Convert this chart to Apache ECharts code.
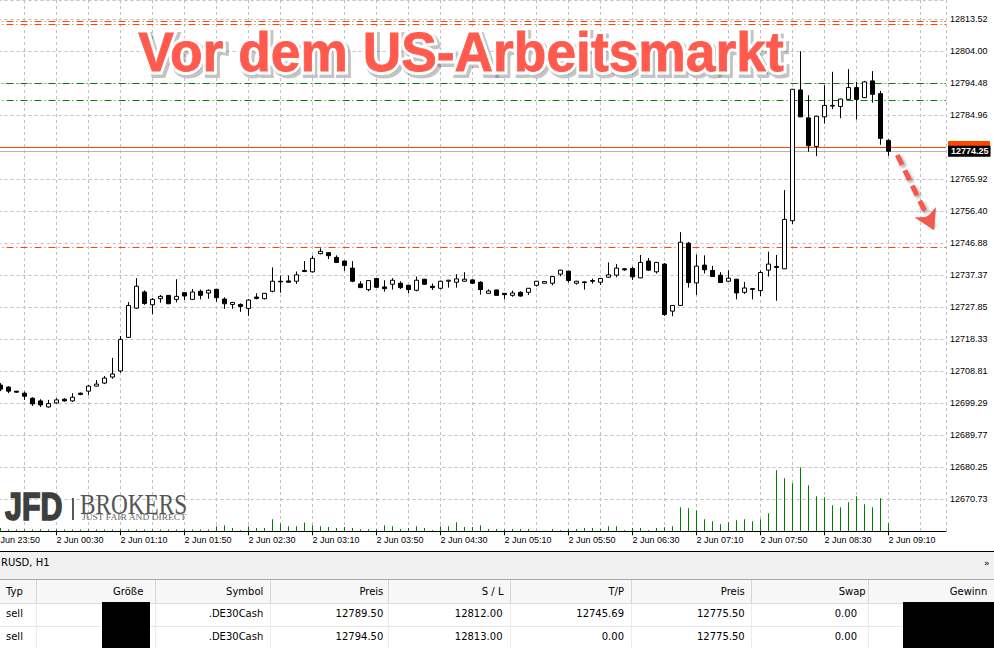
<!DOCTYPE html>
<html>
<head>
<meta charset="utf-8">
<script src="https://cdn.jsdelivr.net/npm/echarts@6.0.0/dist/echarts.min.js"></script>
<style>
html,body{margin:0;padding:0;background:#fff;width:994px;height:648px;overflow:hidden;}
#chart{position:absolute;left:0;top:0;width:994px;height:551px;}
#sep{position:absolute;left:0;top:551px;width:994px;height:1px;background:#000;}
#panel{position:absolute;left:0;top:552px;width:994px;height:96px;background:#f0f0f0;font-family:"DejaVu Sans",sans-serif;font-size:10px;color:#000;overflow:hidden;}
#panel div{position:absolute;white-space:nowrap;box-sizing:border-box;}
</style>
</head>
<body>
<div id="chart"></div>
<div id="sep"></div>
<div id="panel"></div>
<script>
// ---------------- data ----------------
const titleText = 'Vor dem US-Arbeitsmarkt';
const tabLabel = 'RUSD, H1';
const timeTicks = ['Jun 23:50','2 Jun 00:30','2 Jun 01:10','2 Jun 01:50','2 Jun 02:30','2 Jun 03:10','2 Jun 03:50','2 Jun 04:30','2 Jun 05:10','2 Jun 05:50','2 Jun 06:30','2 Jun 07:10','2 Jun 07:50','2 Jun 08:30','2 Jun 09:10'];
const priceTicks = ['12670.73','12680.25','12689.77','12699.29','12708.81','12718.33','12727.85','12737.37','12746.88','12756.40','12765.92','12784.96','12794.48','12804.00','12813.52'];

const open = [12704.7,12704.1,12702.9,12702.3,12700.8,12700.0,12698.2,12699.4,12700.5,12700.0,
12702.3,12702.9,12704.4,12705.3,12707.1,12708.9,12718.9,12727.6,12732.4,12728.6,
12730.4,12731.4,12730.2,12732.2,12730.2,12732.6,12732.1,12733.2,12730.3,12728.7,
12728.7,12727.5,12730.9,12730.4,12732.6,12735.6,12735.7,12735.6,12738.8,12738.4,
12743.8,12744.1,12742.7,12741.6,12739.5,12734.8,12733.1,12736.4,12733.9,12734.7,
12735.0,12734.4,12732.9,12736.2,12734.1,12733.5,12735.6,12735.3,12735.6,12736.0,
12735.3,12732.0,12733.0,12732.0,12731.4,12732.3,12732.3,12734.4,12735.0,12735.0,
12737.7,12738.6,12735.0,12735.4,12735.8,12735.3,12736.8,12737.4,12739.3,12739.4,
12736.6,12741.6,12738.4,12740.7,12726.7,12728.4,12746.9,12735.1,12740.4,12738.8,
12737.4,12735.6,12736.2,12732.3,12733.4,12732.8,12738.9,12740.0,12739.3,12753.6,
12792.5,12784.2,12775.7,12784.5,12787.9,12787.6,12789.7,12793.2,12790.2,12795.2,
12791.4,12777.5];
const close = [12703.5,12702.9,12702.6,12701.4,12699.1,12698.8,12699.2,12700.3,12700.0,12701.1,
12701.9,12704.4,12705.0,12706.8,12708.0,12718.3,12728.4,12734.1,12729.0,12730.2,
12731.1,12728.9,12731.1,12731.2,12732.4,12731.4,12732.9,12730.7,12728.9,12729.3,
12728.1,12730.0,12730.5,12732.0,12735.6,12735.4,12735.3,12737.5,12738.5,12742.4,
12744.5,12743.2,12741.2,12740.3,12735.6,12733.7,12735.8,12733.8,12733.4,12735.9,
12733.7,12733.1,12735.9,12734.7,12733.7,12735.6,12735.9,12736.3,12736.2,12735.0,
12733.1,12732.7,12731.4,12731.6,12732.1,12731.2,12733.5,12735.6,12735.5,12737.0,
12738.9,12735.8,12735.6,12735.2,12735.6,12736.4,12737.5,12739.5,12739.0,12736.9,
12741.2,12738.9,12741.2,12725.7,12728.4,12747.2,12735.2,12740.1,12739.0,12737.0,
12735.2,12736.5,12732.1,12733.6,12733.2,12738.2,12740.7,12739.7,12754.0,12792.7,
12784.5,12775.9,12784.7,12787.9,12787.7,12789.8,12793.2,12789.7,12794.9,12791.2,
12778.1,12774.25];
const high = [12705.3,12704.4,12702.9,12702.8,12701.1,12700.5,12700.3,12700.8,12700.8,12702.3,
12702.5,12704.7,12706.2,12707.4,12712.8,12719.3,12729.4,12736.5,12732.9,12730.6,
12731.5,12731.5,12736.2,12732.3,12733.3,12733.1,12733.2,12733.3,12730.8,12729.4,
12729.0,12730.3,12732.0,12732.1,12739.7,12737.3,12737.3,12738.5,12741.6,12743.2,
12745.4,12744.2,12743.3,12741.8,12741.6,12735.6,12735.9,12736.5,12735.9,12736.5,
12735.6,12734.5,12737.0,12736.3,12734.9,12735.8,12736.0,12737.7,12738.3,12736.2,
12735.6,12733.2,12733.1,12732.1,12732.8,12732.6,12733.6,12735.7,12735.6,12737.1,
12739.0,12738.7,12735.7,12735.6,12736.4,12736.5,12741.2,12740.7,12739.5,12739.9,
12743.4,12742.5,12741.3,12741.0,12728.5,12750.2,12747.3,12743.5,12743.3,12740.2,
12738.3,12738.9,12736.3,12735.4,12733.6,12738.8,12744.4,12743.4,12762.7,12792.8,
12804.0,12790.9,12784.8,12793.9,12797.9,12789.9,12798.7,12794.9,12795.2,12798.1,
12792.2,12777.8];
const low = [12702.9,12702.3,12702.4,12700.3,12698.5,12698.2,12698.0,12699.2,12699.8,12699.7,
12701.7,12701.7,12704.4,12705.0,12706.6,12708.4,12718.7,12727.4,12728.6,12725.8,
12729.2,12728.8,12729.3,12730.0,12730.0,12730.2,12730.4,12729.5,12727.4,12727.4,
12726.5,12725.3,12730.2,12730.2,12732.3,12732.2,12735.3,12734.8,12738.3,12738.2,
12743.6,12742.2,12741.1,12738.7,12735.3,12733.6,12732.6,12733.6,12732.5,12733.1,
12733.3,12732.0,12732.6,12734.6,12733.0,12733.2,12733.7,12733.7,12735.5,12734.9,
12731.6,12731.9,12731.3,12730.2,12731.0,12731.0,12731.5,12734.0,12735.0,12734.4,
12737.1,12735.2,12734.6,12733.1,12734.9,12734.5,12736.6,12736.8,12738.7,12736.0,
12736.5,12738.7,12737.9,12725.3,12725.2,12728.3,12733.7,12731.5,12737.9,12736.9,
12735.1,12735.5,12730.2,12731.8,12730.2,12731.2,12737.0,12729.8,12739.2,12752.6,
12784.4,12774.1,12772.8,12782.5,12786.8,12784.1,12789.6,12783.7,12790.1,12788.7,
12776.2,12772.9];
const volume = [33,17,17,17,17,20,17,17,17,17,
17,17,17,17,17,20,17,17,17,17,
17,17,17,17,17,17,17,50,60,33,
10,50,33,33,120,77,50,50,87,60,
50,43,33,43,33,20,20,20,60,50,
23,33,50,33,10,50,50,90,43,43,
60,23,23,17,23,23,23,5,5,23,
10,23,23,33,33,23,50,50,10,33,
33,10,33,40,50,240,230,210,120,100,
70,90,110,120,100,120,180,610,530,480,
640,460,350,340,260,240,290,350,270,240,
330,80];

const tableHeader = ['Typ','Größe','Symbol','Preis','S / L','T/P','Preis','Swap','Gewinn'];
const tableRows = [
  ['sell','','.DE30Cash','12789.50','12812.00','12745.69','12775.50','0.00',''],
  ['sell','','.DE30Cash','12794.50','12813.00','0.00','12775.50','0.00','']
];
const bidPrice = 12774.25;
// annotation arrow (candle index, price)
const arrowFrom = [113.1, 12773.15];
const arrowTo = [117.7, 12750.8];

// ---------------- chart ----------------
const Y_STEP = 9.51935;
const yMin = parseFloat(priceTicks[0]) - Y_STEP;
const yMax = 12819.26;
const candleData = open.map((o, i) => [i + 1, o, close[i], low[i], high[i]]);
const volData = volume.map((v, i) => [i + 1, v]);

const slLevels = tableRows.map(r => parseFloat(r[4])).filter(v => v > 0);
const entryLevels = tableRows.map(r => parseFloat(r[3]));
const tpLevels = tableRows.map(r => parseFloat(r[5])).filter(v => v > 0);
const askPrice = parseFloat(tableRows[0][6]);

const DASHDOT = [7, 3, 1, 3];
const grid = {color: '#c0c0c0', type: [3, 3], width: 1};
const FONT = '"Liberation Sans", Arial, sans-serif';
const axisFont = {fontSize: 9, fontFamily: FONT, color: '#000'};

const chart = echarts.init(document.getElementById('chart'), null, {renderer: 'svg'});
const option = {
  animation: false,
  backgroundColor: '#fff',
  grid: {left: -7.5, top: 0, width: 953.5, height: 531.3, show: false, containLabel: false, outerBoundsMode: 'none'},
  xAxis: {
    type: 'value', min: 0, max: 119.1875, interval: 8,
    axisLine: {show: true, onZero: false, lineStyle: {color: '#000', width: 1}},
    axisTick: {show: true, length: 4, lineStyle: {color: '#000'}},
    axisLabel: Object.assign({margin: 4, align: 'left', showMaxLabel: false, showMinLabel: true, hideOverlap: false,
      formatter: v => {
        if (Math.abs(v % 8) > 1e-6) return '';
        const i = Math.round(v / 8);
        const t = timeTicks[i] || '';
        return i === 0 ? '{first|' + t + '}' : t;
      },
      rich: {first: {fontSize: 9, fontFamily: FONT, color: '#000', padding: [0, 0, 0, 8]}}}, axisFont),
    splitLine: {show: true, lineStyle: grid},
    minorTick: {show: false, splitNumber: 2},
    minorSplitLine: {show: true, lineStyle: grid}
  },
  yAxis: [{
    type: 'value', position: 'right', min: yMin, max: yMax, interval: Y_STEP,
    axisLine: {show: true, lineStyle: {color: '#000', width: 1}},
    axisTick: {show: true, length: 3, lineStyle: {color: '#000'}},
    axisLabel: Object.assign({margin: 4, showMaxLabel: false, showMinLabel: false,
      formatter: v => { const t = priceTicks.find(p => Math.abs(parseFloat(p) - v) < 0.01); return t || ''; }}, axisFont),
    splitLine: {show: true, lineStyle: grid}
  }, {
    type: 'value', position: 'left', min: 0, max: 5313, show: false, splitLine: {show: false}
  }],
  series: [{
    type: 'bar', xAxisIndex: 0, yAxisIndex: 1, data: volData, barWidth: 1, silent: true,
    itemStyle: {color: '#008000'}, z: 1
  }, {
    type: 'candlestick', xAxisIndex: 0, yAxisIndex: 0, data: candleData,
    encode: {x: 0, y: [1, 2, 3, 4]}, barWidth: 4, silent: true, z: 3,
    itemStyle: {color: '#ffffff', color0: '#000000', borderColor: '#000000', borderColor0: '#000000', borderColorDoji: '#000000', borderWidth: 1},
    markLine: {
      symbol: ['none', 'none'], silent: true, animation: false, precision: 2, z: 2,
      label: {show: false},
      data: [
        ...slLevels.map(v => ({yAxis: v, lineStyle: {color: '#ff4500', type: DASHDOT, width: 1}})),
        ...entryLevels.map(v => ({yAxis: v, lineStyle: {color: '#008000', type: DASHDOT, width: 1}})),
        ...tpLevels.map(v => ({yAxis: v, lineStyle: {color: '#ff4500', type: DASHDOT, width: 1}})),
        // ask line: its price tag is covered by the bid tag, only the orange box edge shows
        {yAxis: askPrice, lineStyle: {color: '#ff4500', type: 'solid', width: 1},
          label: {show: true, position: 'end', distance: 2, formatter: '{b|\u00a0}',
            rich: {b: {width: 42, height: 12, backgroundColor: '#ff4500', fontSize: 9}}}},
        {yAxis: bidPrice, lineStyle: {color: '#b4b4b4', type: 'solid', width: 1},
          label: {show: true, position: 'end', distance: 2, formatter: bidPrice.toFixed(2), color: '#fff',
            backgroundColor: '#000', padding: [1, 2, 1, 3], fontSize: 9, fontWeight: 'bold', fontFamily: FONT}},
        [
          {coord: arrowFrom, symbol: 'none',
            lineStyle: {color: '#f2594d', width: 5, type: [11, 6], cap: 'butt', shadowColor: 'rgba(0,0,0,0.35)', shadowBlur: 3, shadowOffsetX: 2, shadowOffsetY: 2}},
          {coord: arrowTo, symbol: 'arrow', symbolSize: [18, 20]}
        ]
      ]
    }
  }],
  graphic: [
    // title: soft shadow layer, white outline layer, red fill
    {type: 'text', x: 463.5, y: 55, scaleX: 0.953, z: 99, silent: true,
      style: {text: titleText, font: 'bold 56px ' + FONT, fill: 'rgba(60,60,60,0.45)', stroke: 'rgba(60,60,60,0.3)', lineWidth: 8,
        align: 'center', verticalAlign: 'middle', textAlign: 'center', textVerticalAlign: 'middle'}},
    {type: 'text', x: 461, y: 52, scaleX: 0.953, z: 100, silent: true,
      style: {text: titleText, font: 'bold 56px ' + FONT, fill: '#ffffff', stroke: '#ffffff', lineWidth: 7,
        align: 'center', verticalAlign: 'middle', textAlign: 'center', textVerticalAlign: 'middle'}},
    {type: 'text', x: 461, y: 52, scaleX: 0.953, z: 101, silent: true,
      style: {text: titleText, font: 'bold 56px ' + FONT, fill: '#fe5a4e', stroke: '#fe5a4e', lineWidth: 0.8,
        align: 'center', verticalAlign: 'middle', textAlign: 'center', textVerticalAlign: 'middle'}},
    // logo
    {type: 'text', x: 5, y: 507, scaleX: 0.8, z: 50, silent: true,
      style: {text: 'JFD', font: 'bold 38px ' + FONT, fill: '#3e3e3e', stroke: '#3e3e3e', lineWidth: 1.6,
        align: 'left', verticalAlign: 'middle', textAlign: 'left', textVerticalAlign: 'middle'}},
    {type: 'rect', z: 50, silent: true, shape: {x: 72, y: 498, width: 2, height: 22}, style: {fill: '#5a5a5a'}},
    {type: 'text', x: 80, y: 504, scaleX: 0.775, z: 50, silent: true,
      style: {text: 'BROKERS', font: '30px "Liberation Serif", "Times New Roman", serif', fill: '#555555',
        align: 'left', verticalAlign: 'middle', textAlign: 'left', textVerticalAlign: 'middle'}},
    {type: 'text', x: 82, y: 517.5, scaleX: 1.12, z: 50, silent: true,
      style: {text: 'JUST FAIR AND DIRECT', font: '8.5px "Liberation Serif", "Times New Roman", serif', fill: '#666666',
        align: 'left', verticalAlign: 'middle', textAlign: 'left', textVerticalAlign: 'middle'}}
  ]
};
chart.setOption(option);

// ---------------- terminal panel ----------------
const panel = document.getElementById('panel');
function add(css, text) {
  const d = document.createElement('div');
  d.style.cssText = css;
  if (text != null) d.textContent = text;
  panel.appendChild(d);
  return d;
}
add('left:1px;top:5px;line-height:12px;', tabLabel);
add('left:984px;top:5px;line-height:12px;font-size:9px;', '»');
const rowGeom = [[27, 24.3], [51.3, 22.4], [73.7, 22.3]];
add('left:0;top:27px;width:994px;height:24.3px;background:#f7f7f7;border-top:1px solid #a8a8a8;');
add('left:0;top:51.3px;width:994px;height:44.7px;background:#ffffff;');
add('left:0;top:51.3px;width:994px;height:1px;background:#dcdcdc;');
add('left:0;top:73.7px;width:994px;height:1px;background:#e8e8e8;');
const colSep = [35.7, 155, 270, 388.3, 509.7, 630.7, 750.5, 868];
colSep.forEach(x => {
  add(`left:${x}px;top:28px;width:1px;height:23.3px;background:#d6d6d6;`);
  add(`left:${x}px;top:52.3px;width:1px;height:44px;background:#ececec;`);
});
const headRight = [null, 143.3, 263.3, 383.3, 503.5, 624, 744.7, 865.7, 987.3];
const dataRight = [null, 143.3, 263.3, 383.3, 502.5, 624, 744.7, 857, 987.3];
function cell(text, col, rightArr, top, h) {
  if (col === 0) add(`left:6px;top:${top}px;height:${h}px;line-height:${h}px;`, text);
  else add(`right:${994 - rightArr[col]}px;top:${top}px;height:${h}px;line-height:${h}px;`, text);
}
tableHeader.forEach((t, c) => cell(t, c, headRight, rowGeom[0][0] + 0.5, rowGeom[0][1]));
tableRows.forEach((row, r) => row.forEach((t, c) => { if (t) cell(t, c, dataRight, rowGeom[r + 1][0], rowGeom[r + 1][1]); }));
// hidden (blacked-out) values
add('left:102px;top:50px;width:48px;height:46px;background:#000;');
add('left:903.3px;top:50px;width:90.7px;height:46px;background:#000;');
</script>
</body>
</html>
